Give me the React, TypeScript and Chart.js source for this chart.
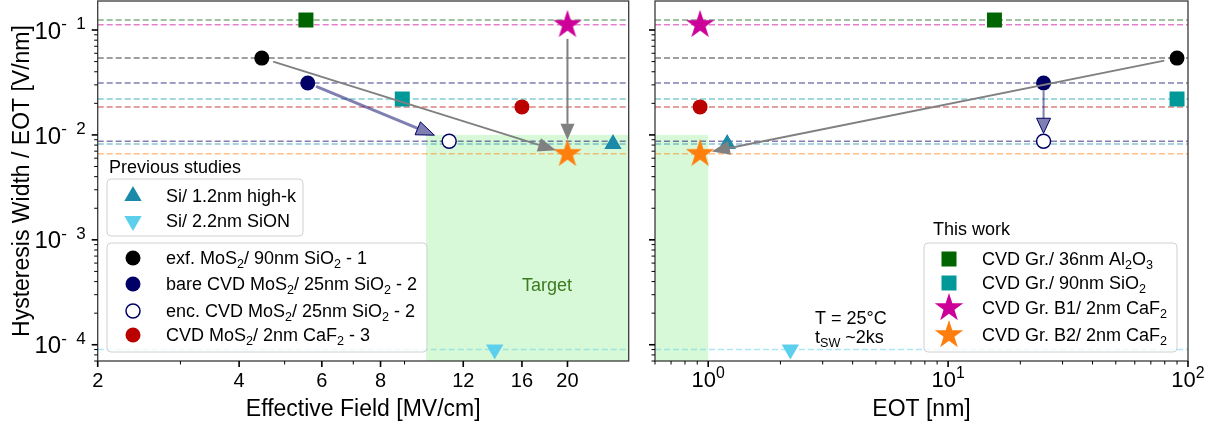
import React, { useEffect, useRef } from 'react';
import { Chart, registerables } from 'chart.js';

Chart.register(...registerables);

const W = 1211;
const H = 429;
const FONT = '"Liberation Sans", Arial, Helvetica, sans-serif';

// ---------------- data ----------------
const seriesLabels = [
  'Si/ 1.2nm high-k',
  'Si/ 2.2nm SiON',
  'exf. MoS_{2}/ 90nm SiO_{2} - 1',
  'bare CVD MoS_{2}/ 25nm SiO_{2} - 2',
  'enc. CVD MoS_{2}/ 25nm SiO_{2} - 2',
  'CVD MoS_{2}/ 2nm CaF_{2} - 3',
  'CVD Gr./ 36nm Al_{2}O_{3}',
  'CVD Gr./ 90nm SiO_{2}',
  'CVD Gr. B1/ 2nm CaF_{2}',
  'CVD Gr. B2/ 2nm CaF_{2}',
];
const effectiveField = [25, 14, 4.47, 5.6, 11.2, 16, 5.55, 8.9, 20, 20];
const eotValues = [1.2, 2.2, 90, 25, 25, 0.925, 15.6, 90, 0.925, 0.925];
const hysteresisPerEot = [0.0082, 0.00009, 0.054, 0.0313, 0.0087, 0.0185, 0.1245, 0.022, 0.112, 0.0066];

const previousStudiesA = [0, 1];
const previousStudiesB = [2, 3, 4, 5];
const thisWork = [6, 7, 8, 9];

const fieldArrows = [[2, 9], [3, 4], [8, 9]];
const eotArrows = [[2, 9], [3, 4]];

const fieldRange = [2, 27];
const eotRange = [0.6, 100];
const yRange = [7.0e-5, 0.189];

const fieldTicks = [2, 4, 6, 8, 12, 16, 20];
const fieldMinorTicks = [3, 5, 7, 9];
const eotTicks = [1, 10, 100];
const eotMinorTicks = [0.6, 0.7, 0.8, 0.9, 2, 3, 4, 5, 6, 7, 8, 9, 20, 30, 40, 50, 60, 70, 80, 90];
const yTicks = [1e-4, 1e-3, 1e-2, 1e-1];

const targetField = 10;
const targetEot = 1;
const targetLevel = 0.01;

// ---------------- styles ----------------
type Marker = { shape: string; color: string; size: number };
const markerStyles: Marker[] = [
  { shape: 'triangle', color: '#1a8aa8', size: 10 },
  { shape: 'triangleDown', color: '#5ccfec', size: 10 },
  { shape: 'circle', color: '#000000', size: 7.5 },
  { shape: 'circle', color: '#000066', size: 7.5 },
  { shape: 'open', color: '#000066', size: 7 },
  { shape: 'circle', color: '#bb0000', size: 7.5 },
  { shape: 'rect', color: '#006400', size: 10.6 },
  { shape: 'rect', color: '#009999', size: 10.6 },
  { shape: 'star', color: '#cc0099', size: 15 },
  { shape: 'star', color: '#ff7f0e', size: 15 },
];

type ArrowStyle = {
  line: string; lw: number; fill: string; edge?: string;
  shrinkA: number; shrinkB: number; headLen: number; headW: number;
};
const grayArrow = (a: number, b: number, hl = 18): ArrowStyle => ({
  line: '#808080', lw: 2, fill: '#808080', shrinkA: a, shrinkB: b, headLen: hl, headW: 14,
});
const navyArrow = (a: number, b: number, lw: number, hl: number): ArrowStyle => ({
  line: 'rgba(0,0,102,0.5)', lw, fill: 'rgba(0,0,102,0.5)', edge: '#000066',
  shrinkA: a, shrinkB: b, headLen: hl, headW: 14,
});
const fieldArrowStyles = [grayArrow(12, 12), navyArrow(9, 16, 3, 18), grayArrow(14, 14, 16)];
const eotArrowStyles = [grayArrow(13, 12), navyArrow(8, 8, 2, 15)];

function withAlpha(hex: string, a: number) {
  const n = parseInt(hex.slice(1), 16);
  return `rgba(${(n >> 16) & 255},${(n >> 8) & 255},${n & 255},${a})`;
}

const starCache: Record<string, HTMLCanvasElement> = {};
function starImage(color: string, R: number) {
  const key = color + R;
  if (starCache[key]) return starCache[key];
  const c = document.createElement('canvas');
  const s = Math.ceil(2 * R + 2);
  c.width = s;
  c.height = s;
  const g = c.getContext('2d')!;
  g.beginPath();
  const r = R * 0.381966;
  for (let i = 0; i < 10; i++) {
    const a = -Math.PI / 2 + (i * Math.PI) / 5;
    const rr = i % 2 === 0 ? R : r;
    const px = s / 2 + rr * Math.cos(a);
    const py = s / 2 + rr * Math.sin(a);
    if (i === 0) g.moveTo(px, py);
    else g.lineTo(px, py);
  }
  g.closePath();
  g.fillStyle = color;
  g.fill();
  starCache[key] = c;
  return c;
}

function pointStyleFor(m: Marker): any {
  if (m.shape === 'star') return starImage(m.color, m.size);
  if (m.shape === 'triangleDown') return 'triangle';
  if (m.shape === 'open') return 'circle';
  return m.shape;
}

function drawMarker(ctx: CanvasRenderingContext2D, m: Marker, x: number, y: number) {
  ctx.save();
  if (m.shape === 'star') {
    const img = starImage(m.color, m.size);
    ctx.drawImage(img, x - img.width / 2, y - img.height / 2);
  } else if (m.shape === 'circle' || m.shape === 'open') {
    ctx.beginPath();
    ctx.arc(x, y, m.size, 0, Math.PI * 2);
    if (m.shape === 'open') {
      ctx.fillStyle = '#ffffff';
      ctx.fill();
      ctx.strokeStyle = m.color;
      ctx.lineWidth = 1.5;
      ctx.stroke();
    } else {
      ctx.fillStyle = m.color;
      ctx.fill();
    }
  } else if (m.shape === 'rect') {
    const s = m.size * Math.SQRT1_2;
    ctx.fillStyle = m.color;
    ctx.fillRect(x - s, y - s, 2 * s, 2 * s);
  } else {
    const dir = m.shape === 'triangle' ? 1 : -1;
    const r = m.size;
    const h = r * Math.sin(Math.PI / 3);
    ctx.beginPath();
    ctx.moveTo(x, y - dir * r);
    ctx.lineTo(x - h, y + (dir * r) / 2);
    ctx.lineTo(x + h, y + (dir * r) / 2);
    ctx.closePath();
    ctx.fillStyle = m.color;
    ctx.fill();
  }
  ctx.restore();
}

type Seg = { t: string; k: 'n' | 'sub' | 'sup' };
function parseRich(s: string): Seg[] {
  const out: Seg[] = [];
  const re = /([_^])\{([^}]*)\}/g;
  let last = 0;
  let m: RegExpExecArray | null;
  while ((m = re.exec(s))) {
    if (m.index > last) out.push({ t: s.slice(last, m.index), k: 'n' });
    out.push({ t: m[2], k: m[1] === '_' ? 'sub' : 'sup' });
    last = re.lastIndex;
  }
  if (last < s.length) out.push({ t: s.slice(last), k: 'n' });
  return out;
}

function drawRich(
  ctx: CanvasRenderingContext2D, s: string, x: number, y: number, size: number,
  align: 'left' | 'center' | 'right' = 'left', color = '#000', scriptSize?: number
) {
  const segs = parseRich(s);
  const small = scriptSize ?? size * 0.7;
  const sz = (k: string) => (k === 'n' ? size : small);
  let w = 0;
  const ws = segs.map((sg) => {
    ctx.font = `${sz(sg.k)}px ${FONT}`;
    const mw = ctx.measureText(sg.t).width;
    w += mw;
    return mw;
  });
  let cx = align === 'left' ? x : align === 'center' ? x - w / 2 : x - w;
  ctx.save();
  ctx.textAlign = 'left';
  ctx.textBaseline = 'alphabetic';
  ctx.fillStyle = color;
  segs.forEach((sg, i) => {
    ctx.font = `${sz(sg.k)}px ${FONT}`;
    const dy = sg.k === 'sub' ? size * 0.22 : sg.k === 'sup' ? -size * 0.4 : 0;
    ctx.fillText(sg.t, cx, y + dy);
    cx += ws[i];
  });
  ctx.restore();
}

function drawArrow(ctx: CanvasRenderingContext2D, x1: number, y1: number, x2: number, y2: number, st: ArrowStyle) {
  const dx = x2 - x1;
  const dy = y2 - y1;
  const len = Math.hypot(dx, dy);
  const ux = dx / len;
  const uy = dy / len;
  const sx = x1 + ux * st.shrinkA;
  const sy = y1 + uy * st.shrinkA;
  const tx = x2 - ux * st.shrinkB;
  const ty = y2 - uy * st.shrinkB;
  const bx = tx - ux * st.headLen;
  const by = ty - uy * st.headLen;
  ctx.save();
  ctx.strokeStyle = st.line;
  ctx.lineWidth = st.lw;
  ctx.beginPath();
  ctx.moveTo(sx, sy);
  ctx.lineTo(bx, by);
  ctx.stroke();
  ctx.beginPath();
  ctx.moveTo(tx, ty);
  ctx.lineTo(bx - (uy * st.headW) / 2, by + (ux * st.headW) / 2);
  ctx.lineTo(bx + (uy * st.headW) / 2, by - (ux * st.headW) / 2);
  ctx.closePath();
  ctx.fillStyle = st.fill;
  ctx.fill();
  if (st.edge) {
    ctx.strokeStyle = st.edge;
    ctx.lineWidth = 1;
    ctx.stroke();
  }
  ctx.restore();
}

function legendBox(ctx: CanvasRenderingContext2D, x: number, y: number, w: number, h: number) {
  ctx.save();
  ctx.beginPath();
  (ctx as any).roundRect(x, y, w, h, 4);
  ctx.fillStyle = 'rgba(255,255,255,0.8)';
  ctx.fill();
  ctx.strokeStyle = '#d0d0d0';
  ctx.lineWidth = 1;
  ctx.stroke();
  ctx.restore();
}

function legendEntries(ctx: CanvasRenderingContext2D, idx: number[], ys: number[], mx: number, tx: number) {
  idx.forEach((k, i) => {
    drawMarker(ctx, markerStyles[k], mx, ys[i]);
    drawRich(ctx, seriesLabels[k], tx, ys[i] + 6.4, 18);
  });
}

const yMinorTicks: number[] = [];
for (let e = -5; e <= -1; e++) {
  for (let m = 2; m <= 9; m++) {
    const v = m * Math.pow(10, e);
    if (v > yRange[0] && v < yRange[1]) yMinorTicks.push(v);
  }
}

type PanelCfg = {
  xValues: number[];
  xRange: number[];
  area: { left: number; right: number; top: number; bottom: number };
  xMajor: number[];
  xMinor: number[];
  xLabel: (v: number) => string;
  xLabelSize: number;
  title: string;
  yLabels: boolean;
  arrows: number[][];
  arrowStyles: ArrowStyle[];
  target: number[];
  extras: (ctx: CanvasRenderingContext2D) => void;
};

function makeChart(canvas: HTMLCanvasElement, cfg: PanelCfg) {
  const datasets: any[] = [];
  hysteresisPerEot.forEach((y, i) => {
    const m = markerStyles[i];
    datasets.push({
      type: 'line',
      data: [{ x: cfg.xRange[0], y }, { x: cfg.xRange[1], y }],
      borderColor: withAlpha(m.color, 0.5),
      borderWidth: 1.5,
      borderDash: [6, 3],
      pointRadius: 0,
      showLine: true,
      fill: false,
      order: 10,
    });
  });
  hysteresisPerEot.forEach((y, i) => {
    const m = markerStyles[i];
    datasets.push({
      type: 'scatter',
      label: seriesLabels[i],
      data: [{ x: cfg.xValues[i], y }],
      pointStyle: pointStyleFor(m),
      pointRadius: m.size,
      pointRotation: m.shape === 'triangleDown' ? 180 : 0,
      pointBackgroundColor: m.shape === 'open' ? '#ffffff' : m.color,
      pointBorderColor: m.color,
      pointBorderWidth: m.shape === 'open' ? 1.5 : 0,
      order: 0,
      clip: false,
    });
  });

  const deco = {
    id: 'deco',
    beforeDatasetsDraw(chart: any) {
      const { ctx, chartArea: a, scales } = chart;
      const x0 = Math.max(a.left, scales.x.getPixelForValue(cfg.target[0]));
      const x1 = Math.min(a.right, scales.x.getPixelForValue(cfg.target[1]));
      const yt = scales.y.getPixelForValue(targetLevel);
      ctx.save();
      ctx.fillStyle = 'rgba(144,238,144,0.35)';
      ctx.fillRect(x0, yt, x1 - x0, a.bottom - yt);
      ctx.restore();
    },
    afterDatasetsDraw(chart: any) {
      const { ctx, scales } = chart;
      cfg.arrows.forEach(([from, to], i) => {
        drawArrow(
          ctx,
          scales.x.getPixelForValue(cfg.xValues[from]),
          scales.y.getPixelForValue(hysteresisPerEot[from]),
          scales.x.getPixelForValue(cfg.xValues[to]),
          scales.y.getPixelForValue(hysteresisPerEot[to]),
          cfg.arrowStyles[i]
        );
      });
    },
    afterDraw(chart: any) {
      const { ctx, chartArea: a, scales } = chart;
      cfg.extras(ctx);
      ctx.save();
      ctx.strokeStyle = '#3a3a3a';
      ctx.lineWidth = 1.3;
      ctx.strokeRect(a.left, a.top, a.right - a.left, a.bottom - a.top);
      ctx.strokeStyle = '#000';
      const tick = (x1: number, y1: number, x2: number, y2: number, lw: number) => {
        ctx.lineWidth = lw;
        ctx.beginPath();
        ctx.moveTo(x1, y1);
        ctx.lineTo(x2, y2);
        ctx.stroke();
      };
      cfg.xMajor.forEach((v) => {
        const px = scales.x.getPixelForValue(v);
        tick(px, a.bottom, px, a.bottom + 6, 1.6);
        drawRich(ctx, cfg.xLabel(v), px, a.bottom + 26, cfg.xLabelSize, 'center', '#000', cfg.xLabelSize * 0.72);
      });
      cfg.xMinor.forEach((v) => {
        const px = scales.x.getPixelForValue(v);
        tick(px, a.bottom, px, a.bottom + 3.5, 1);
      });
      yTicks.forEach((v) => {
        const py = scales.y.getPixelForValue(v);
        tick(a.left - 6, py, a.left, py, 1.6);
        if (cfg.yLabels) {
          const e = Math.round(Math.log10(v));
          drawRich(ctx, `10^{-  ${-e}}`, a.left - 12, py + 8.6, 24, 'right', '#000', 17);
        }
      });
      yMinorTicks.forEach((v) => {
        const py = scales.y.getPixelForValue(v);
        tick(a.left - 3.5, py, a.left, py, 1);
      });
      ctx.restore();
      drawRich(ctx, cfg.title, (a.left + a.right) / 2, 416, 23, 'center');
      if (cfg.yLabels) {
        ctx.save();
        ctx.translate(29, (a.top + a.bottom) / 2);
        ctx.rotate(-Math.PI / 2);
        drawRich(ctx, 'Hysteresis Width / EOT [V/nm]', 0, 0, 23, 'center');
        ctx.restore();
      }
    },
  };

  return new Chart(canvas, {
    type: 'scatter',
    data: { datasets },
    options: {
      animation: false,
      responsive: false,
      devicePixelRatio: 1,
      events: [],
      layout: {
        autoPadding: false,
        padding: {
          left: cfg.area.left,
          right: W - cfg.area.right,
          top: cfg.area.top,
          bottom: H - cfg.area.bottom,
        },
      },
      scales: {
        x: { type: 'logarithmic', min: cfg.xRange[0], max: cfg.xRange[1], display: false },
        y: { type: 'logarithmic', min: yRange[0], max: yRange[1], display: false },
      },
      plugins: { legend: { display: false }, tooltip: { enabled: false } },
    } as any,
    plugins: [deco],
  });
}

const leftCfg: PanelCfg = {
  xValues: effectiveField,
  xRange: fieldRange,
  area: { left: 97.7, right: 628.7, top: 1, bottom: 361 },
  xMajor: fieldTicks,
  xMinor: fieldMinorTicks,
  xLabel: (v) => String(v),
  xLabelSize: 20,
  title: 'Effective Field [MV/cm]',
  yLabels: true,
  arrows: fieldArrows,
  arrowStyles: fieldArrowStyles,
  target: [targetField, fieldRange[1]],
  extras: (ctx) => {
    drawRich(ctx, 'Target', 547, 290.5, 18, 'center', '#3d7a22');
    drawRich(ctx, 'Previous studies', 109, 173.4, 18);
    legendBox(ctx, 107, 179, 196, 57);
    legendEntries(ctx, previousStudiesA, [196, 221], 133, 166);
    legendBox(ctx, 107, 243, 320, 109);
    legendEntries(ctx, previousStudiesB, [258, 284, 311, 335], 133, 166);
  },
};

const rightCfg: PanelCfg = {
  xValues: eotValues,
  xRange: eotRange,
  area: { left: 655, right: 1188, top: 1, bottom: 361 },
  xMajor: eotTicks,
  xMinor: eotMinorTicks,
  xLabel: (v) => `10^{${Math.round(Math.log10(v))}}`,
  xLabelSize: 22,
  title: 'EOT [nm]',
  yLabels: false,
  arrows: eotArrows,
  arrowStyles: eotArrowStyles,
  target: [eotRange[0], targetEot],
  extras: (ctx) => {
    drawRich(ctx, 'T = 25°C', 815, 324.4, 18);
    drawRich(ctx, 't_{SW} ~2ks', 815, 343.4, 18);
    drawRich(ctx, 'This work', 933, 235.4, 18);
    legendBox(ctx, 924, 243, 253, 109);
    legendEntries(ctx, thisWork, [259, 283, 308, 335], 949, 982);
  },
};

export default function App() {
  const leftRef = useRef<HTMLCanvasElement>(null);
  const rightRef = useRef<HTMLCanvasElement>(null);
  useEffect(() => {
    const c1 = makeChart(leftRef.current!, leftCfg);
    const c2 = makeChart(rightRef.current!, rightCfg);
    return () => {
      c1.destroy();
      c2.destroy();
    };
  }, []);
  const cs: React.CSSProperties = { position: 'absolute', left: 0, top: 0, width: W, height: H };
  return (
    <div style={{ position: 'fixed', left: 0, top: 0, width: W, height: H, background: '#fff' }}>
      <canvas ref={leftRef} width={W} height={H} style={cs} />
      <canvas ref={rightRef} width={W} height={H} style={cs} />
    </div>
  );
}
